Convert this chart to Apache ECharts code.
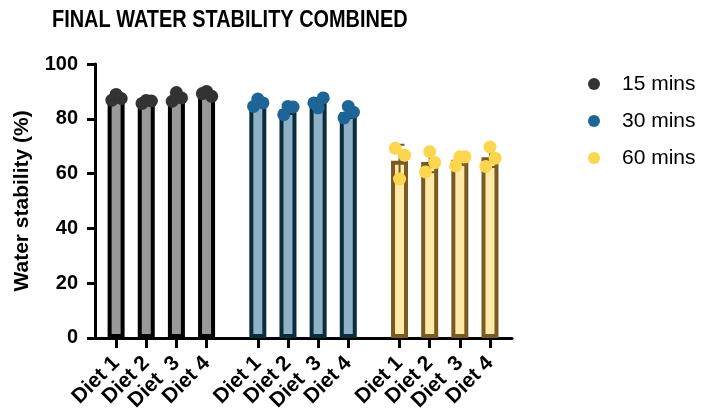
<!DOCTYPE html>
<html>
<head>
<meta charset="utf-8">
<script src="https://cdn.jsdelivr.net/npm/echarts@6/dist/echarts.min.js"></script>
<style>
  html, body { margin: 0; padding: 0; background: #fff; }
  #chart { width: 704px; height: 414px; }
</style>
</head>
<body>
<div id="chart"></div>
<script>
// Diets within each soaking time
const diets = ['Diet 1', 'Diet 2', 'Diet  3', 'Diet 4'];
const groups = ['15 mins', '30 mins', '60 mins'];
const yTicks = [0, 20, 40, 60, 80, 100];

// Replicate water stability (%) per diet, ordered left / middle / right
const rep15 = [
  [86.8, 88.9, 87.4],
  [85.6, 86.7, 86.5],
  [86.4, 89.6, 87.6],
  [89.2, 90.0, 88.2]
];
const rep30 = [
  [84.5, 87.2, 85.8],
  [81.5, 84.5, 84.3],
  [85.8, 84.0, 87.6],
  [80.3, 84.5, 82.4]
];
const rep60 = [
  [69.2, 58.0, 66.7],
  [60.6, 68.0, 64.0],
  [62.8, 66.1, 66.1],
  [62.6, 69.7, 65.6]
];

const replicates = [rep15, rep30, rep60];

// Styling per group
const fillColors = ['#999999', '#8fb1c8', '#fee9a6'];
const edgeColors = ['#000000', '#0b2c3b', '#7a5a22'];
const dotColors = ['#333333', '#1d6596', '#fdd64f'];

// Layout along the x axis: 4 bars per group, wider gap between groups
const GROUP_STEP = 4.7;
const jitter = [-0.14, 0.0, 0.17];
const pos = (g, d) => g * GROUP_STEP + d;

const mean = a => a.reduce((s, v) => s + v, 0) / a.length;
const sd = a => {
  const m = mean(a);
  return Math.sqrt(a.reduce((s, v) => s + (v - m) * (v - m), 0) / (a.length - 1));
};

const tickPositions = [];
const tickLabels = {};
groups.forEach((g, gi) => diets.forEach((d, di) => {
  const p = pos(gi, di);
  tickPositions.push(p);
  tickLabels[p.toFixed(3)] = d;
}));

// All bars in one series so they sit exactly on their x positions
const barData = [];
const errData = [];
groups.forEach((name, gi) => {
  replicates[gi].forEach((r, di) => {
    const m = mean(r), s = sd(r);
    barData.push({
      value: [pos(gi, di), m],
      itemStyle: { color: fillColors[gi], borderColor: edgeColors[gi], borderWidth: 4 }
    });
    errData.push([pos(gi, di), m - s, m + s, gi]);
  });
});

const series = [
  {
    type: 'bar',
    name: 'means',
    barWidth: 17,
    data: barData,
    z: 2
  },
  {
    type: 'custom',
    name: 'sd',
    data: errData,
    renderItem: (params, api) => {
      const x = api.coord([api.value(0), 0])[0];
      const lo = api.coord([0, api.value(1)])[1];
      const hi = api.coord([0, api.value(2)])[1];
      const st = { stroke: edgeColors[api.value(3)], lineWidth: 2 };
      return {
        type: 'group',
        children: [
          { type: 'line', shape: { x1: x, y1: lo, x2: x, y2: hi }, style: st },
          { type: 'line', shape: { x1: x - 5, y1: hi, x2: x + 5, y2: hi }, style: st },
          { type: 'line', shape: { x1: x - 5, y1: lo, x2: x + 5, y2: lo }, style: st }
        ]
      };
    },
    z: 3
  }
];

groups.forEach((name, gi) => {
  const pts = [];
  replicates[gi].forEach((r, di) => r.forEach((v, k) => pts.push([pos(gi, di) + jitter[k], v])));
  series.push({
    type: 'scatter',
    name: name,
    symbol: 'circle',
    symbolSize: 13,
    itemStyle: { color: dotColors[gi], opacity: 1 },
    data: pts,
    z: 4
  });
});

const chart = echarts.init(document.getElementById('chart'), null, { renderer: 'canvas' });
chart.setOption({
  animation: false,
  graphic: [{
    type: 'text',
    left: 52,
    top: 8,
    scaleX: 0.83,
    style: {
      text: 'FINAL WATER STABILITY COMBINED',
      font: 'bold 24px "Liberation Sans", Arial',
      fill: '#000'
    }
  }],
  legend: {
    data: groups,
    orient: 'vertical',
    left: 583,
    top: 67,
    icon: 'circle',
    itemWidth: 12,
    itemHeight: 12,
    itemGap: 13,
    textStyle: { fontFamily: '"Liberation Sans", Arial', fontSize: 21, color: '#000', lineHeight: 24, padding: [0, 0, 0, 17] }
  },
  grid: { left: 95, right: 192, top: 64, bottom: 74, containLabel: false },
  xAxis: {
    type: 'value',
    min: -0.7,
    max: 2 * GROUP_STEP + 3 + 0.73,
    splitLine: { show: false },
    axisLine: { show: true, onZero: false, lineStyle: { color: '#000', width: 3 } },
    axisTick: { show: true, customValues: tickPositions, length: 10, lineStyle: { color: '#000', width: 3 } },
    axisLabel: {
      customValues: tickPositions,
      rotate: 45,
      margin: 22,
      fontFamily: '"Liberation Sans", Arial',
      fontWeight: 'bold',
      fontSize: 21,
      color: '#000',
      formatter: v => tickLabels[Number(v).toFixed(3)] || ''
    }
  },
  yAxis: {
    type: 'value',
    min: 0,
    max: 100,
    interval: 20,
    name: 'Water stability (%)',
    nameLocation: 'middle',
    nameGap: 62,
    nameTextStyle: { fontFamily: '"Liberation Sans", Arial', fontWeight: 'bold', fontSize: 21, color: '#000' },
    splitLine: { show: false },
    axisLine: { show: true, onZero: false, lineStyle: { color: '#000', width: 3 } },
    axisTick: { show: true, length: 8, lineStyle: { color: '#000', width: 3 } },
    axisLabel: {
      customValues: yTicks,
      margin: 17,
      fontFamily: '"Liberation Sans", Arial',
      fontWeight: 'bold',
      fontSize: 20,
      color: '#000'
    }
  },
  series: series
});
</script>
</body>
</html>
